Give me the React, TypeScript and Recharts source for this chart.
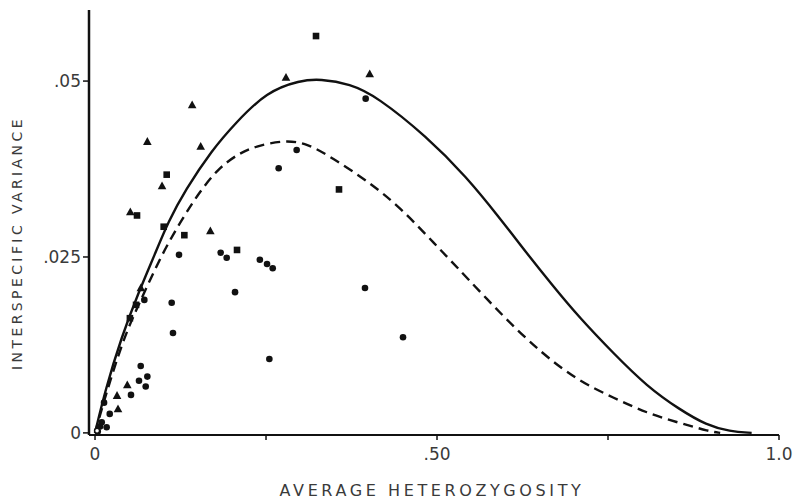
import React from 'react';
import { ComposedChart, Line, Scatter, XAxis, YAxis, Label } from 'recharts';

// theoretical curves
const solidH = [0, 0.015, 0.039, 0.063, 0.088, 0.107, 0.132, 0.171, 0.205, 0.251, 0.3, 0.329, 0.373, 0.412, 0.485, 0.543, 0.592, 0.621, 0.67, 0.709, 0.758, 0.807, 0.855, 0.894, 0.928, 0.96];
const solidV = [0, 0.0061, 0.0137, 0.0198, 0.0255, 0.03, 0.0345, 0.0402, 0.044, 0.0485, 0.0501, 0.0503, 0.0496, 0.0478, 0.0421, 0.0364, 0.0305, 0.0268, 0.0208, 0.0163, 0.0113, 0.0066, 0.0033, 0.0011, 0.0002, 0];

const dashedH = [0, 0.015, 0.041, 0.059, 0.098, 0.127, 0.151, 0.18, 0.21, 0.234, 0.275, 0.31, 0.348, 0.397, 0.446, 0.5, 0.524, 0.597, 0.651, 0.706, 0.758, 0.807, 0.855, 0.899, 0.914];
const dashedV = [0, 0.0052, 0.0132, 0.0172, 0.0255, 0.0303, 0.034, 0.0376, 0.0397, 0.0407, 0.0416, 0.0412, 0.039, 0.0359, 0.0321, 0.0265, 0.0241, 0.0165, 0.0115, 0.0074, 0.005, 0.0028, 0.0014, 0.0002, 0];

// observed species pairs
const circleH = [0.1228, 0.1837, 0.1925, 0.241, 0.2515, 0.2598, 0.2047, 0.3947, 0.4503, 0.2549, 0.1121, 0.114, 0.0721, 0.0668, 0.0765, 0.0643, 0.0741, 0.0526, 0.0215, 0.0132, 0.0098, 0.017, 0.004, 0.0073, 0.3957, 0.2948, 0.2685];
const circleV = [0.0253, 0.0256, 0.0249, 0.0246, 0.024, 0.0234, 0.02, 0.0206, 0.0136, 0.0105, 0.0185, 0.0142, 0.0189, 0.0095, 0.008, 0.0074, 0.0066, 0.0054, 0.0027, 0.0043, 0.0015, 0.0008, 0.0002, 0.0009, 0.0475, 0.0402, 0.0376];

const triangleH = [0.142, 0.0765, 0.1545, 0.098, 0.0516, 0.1686, 0.0472, 0.0322, 0.0336, 0.2792, 0.4016, 0.067];
const triangleV = [0.0466, 0.0414, 0.0407, 0.0351, 0.0314, 0.0287, 0.0068, 0.0053, 0.0034, 0.0505, 0.051, 0.0206];

const squareH = [0.1048, 0.0614, 0.1004, 0.1306, 0.2076, 0.3231, 0.3567, 0.06, 0.051];
const squareV = [0.0367, 0.0309, 0.0293, 0.0281, 0.026, 0.0564, 0.0346, 0.0182, 0.0163];

const openH = [0.003];
const openV = [0.0003];

const xTicks = [0, 0.25, 0.5, 0.75, 1];
const xTickLabels = ['0', '', '.50', '', '1.0'];
const yTicks = [0, 0.025, 0.05];
const yTickLabels = ['0', '.025', '.05'];

const zip = (h: number[], v: number[]) => h.map((x, i) => ({ h: x, v: v[i] }));

const solidData = zip(solidH, solidV);
const dashedData = zip(dashedH, dashedV);
const circleData = zip(circleH, circleV);
const triangleData = zip(triangleH, triangleV);
const squareData = zip(squareH, squareV);
const openData = zip(openH, openV);

const INK = '#111';
const TXT = '#3a3a3a';
const FONT = '"DejaVu Sans", sans-serif';
const tickStyle = { fill: TXT, fontSize: 17, fontFamily: FONT };

const Dot = (p: any) => <circle cx={p.cx} cy={p.cy} r={3.3} fill={INK} />;
const OpenDot = (p: any) => <circle cx={p.cx} cy={p.cy} r={2.5} fill="#fff" stroke={INK} strokeWidth={1.5} />;
const Tri = (p: any) => (
  <path d={`M${p.cx},${p.cy - 4.5}L${p.cx + 4.3},${p.cy + 3.3}L${p.cx - 4.3},${p.cy + 3.3}Z`} fill={INK} />
);
const Sq = (p: any) => <rect x={p.cx - 3.3} y={p.cy - 3.3} width={6.6} height={6.6} fill={INK} />;

const App: React.FC = () => {
  return (
    <div style={{ position: 'absolute', left: 0, top: 0, width: 793, height: 501, background: '#fff' }}>
      <ComposedChart width={793} height={501} margin={{ top: 10, right: 14, bottom: 0, left: 0 }}>
        <XAxis
          type="number"
          dataKey="h"
          domain={[-0.0088, 1]}
          ticks={xTicks}
          tickFormatter={(v: number) => xTickLabels[xTicks.indexOf(v)] ?? ''}
          allowDataOverflow
          height={66}
          tickSize={5}
          tickMargin={8}
          axisLine={{ stroke: INK, strokeWidth: 2 }}
          tickLine={{ stroke: INK, strokeWidth: 1.5 }}
          tick={tickStyle}
        >
          <Label
            content={() => (
              <text x={432} y={496} textAnchor="middle" fill={TXT} fontSize={16} fontFamily={FONT} letterSpacing={3.6}>
                AVERAGE HETEROZYGOSITY
              </text>
            )}
          />
        </XAxis>
        <YAxis
          type="number"
          dataKey="v"
          domain={[-0.0003, 0.0601]}
          ticks={yTicks}
          tickFormatter={(v: number) => yTickLabels[yTicks.indexOf(v)] ?? ''}
          allowDataOverflow
          width={89}
          tickSize={6}
          tickMargin={2}
          axisLine={{ stroke: INK, strokeWidth: 2.5 }}
          tickLine={{ stroke: INK, strokeWidth: 1.5 }}
          tick={tickStyle}
        >
          <Label
            content={() => (
              <text
                x={22}
                y={243}
                transform="rotate(-90 22 243)"
                textAnchor="middle"
                fill={TXT}
                fontSize={14}
                fontFamily={FONT}
                letterSpacing={3.4}
              >
                INTERSPECIFIC VARIANCE
              </text>
            )}
          />
        </YAxis>
        <Line
          data={solidData}
          dataKey="v"
          type="basis"
          stroke={INK}
          strokeWidth={2.4}
          dot={false}
          activeDot={false}
          isAnimationActive={false}
        />
        <Line
          data={dashedData}
          dataKey="v"
          type="basis"
          stroke={INK}
          strokeWidth={2.4}
          strokeDasharray="10 6"
          dot={false}
          activeDot={false}
          isAnimationActive={false}
        />
        <Scatter data={circleData} dataKey="v" shape={Dot} isAnimationActive={false} />
        <Scatter data={triangleData} dataKey="v" shape={Tri} isAnimationActive={false} />
        <Scatter data={squareData} dataKey="v" shape={Sq} isAnimationActive={false} />
        <Scatter data={openData} dataKey="v" shape={OpenDot} isAnimationActive={false} />
      </ComposedChart>
    </div>
  );
};

export default App;
